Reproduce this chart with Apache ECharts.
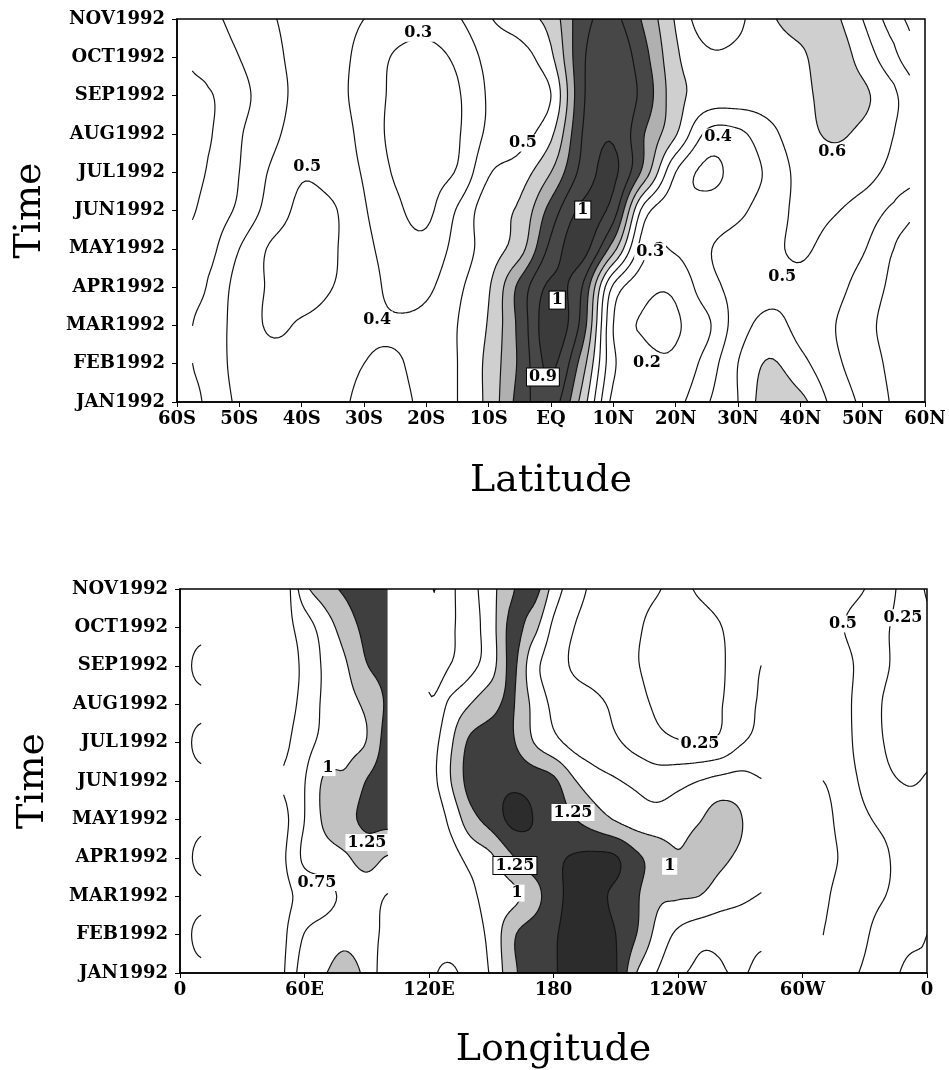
<!DOCTYPE html>
<html><head><meta charset="utf-8">
<script src="https://cdn.jsdelivr.net/npm/echarts@6/dist/echarts.min.js"></script>
<style>html,body{margin:0;padding:0;background:#fff}#chart{width:949px;height:1070px}</style>
</head><body><div id="chart"></div>
<script>
// ---------------- data ----------------
const months = ['JAN1992','FEB1992','MAR1992','APR1992','MAY1992','JUN1992','JUL1992','AUG1992','SEP1992','OCT1992','NOV1992'];
const latTickLabels = ['60S','50S','40S','30S','20S','10S','EQ','10N','20N','30N','40N','50N','60N'];
const lonTickLabels = ['0','60E','120E','180','120W','60W','0'];

// latitude grid columns (data only between 57.5S and 57.5N)
const latCols = [-57.5,-55,-50,-45,-40,-35,-30,-25,-20,-15,-10,-5,0,5,10,15,20,25,30,35,40,45,50,55,57.5];
// rows Jan..Nov
const latField = [
 [0.28,0.32,0.42,0.46,0.46,0.44,0.37,0.37,0.43,0.50,0.63,0.84,0.95,0.66,0.27,0.24,0.27,0.39,0.50,0.66,0.63,0.48,0.38,0.29,0.26],
 [0.30,0.33,0.44,0.47,0.47,0.45,0.40,0.39,0.44,0.50,0.63,0.82,1.02,0.75,0.32,0.23,0.22,0.34,0.50,0.61,0.53,0.43,0.35,0.28,0.26],
 [0.30,0.34,0.44,0.51,0.49,0.46,0.42,0.41,0.43,0.50,0.61,0.83,1.06,0.86,0.30,0.19,0.19,0.28,0.45,0.53,0.47,0.41,0.33,0.27,0.25],
 [0.27,0.31,0.44,0.51,0.54,0.50,0.45,0.37,0.38,0.48,0.59,0.83,1.02,0.90,0.38,0.23,0.22,0.36,0.43,0.47,0.48,0.44,0.36,0.28,0.25],
 [0.24,0.27,0.40,0.51,0.53,0.51,0.43,0.35,0.33,0.44,0.55,0.66,0.93,1.04,0.74,0.33,0.31,0.39,0.44,0.48,0.51,0.47,0.41,0.30,0.25],
 [0.19,0.24,0.32,0.44,0.52,0.51,0.41,0.32,0.28,0.41,0.56,0.62,0.84,1.02,0.95,0.45,0.33,0.34,0.38,0.45,0.52,0.51,0.46,0.38,0.33],
 [0.17,0.21,0.30,0.41,0.49,0.46,0.39,0.29,0.27,0.31,0.49,0.55,0.70,0.93,1.02,0.76,0.40,0.28,0.34,0.42,0.53,0.56,0.54,0.47,0.44],
 [0.16,0.19,0.29,0.37,0.45,0.45,0.37,0.27,0.24,0.29,0.42,0.46,0.58,0.90,0.99,0.80,0.61,0.38,0.38,0.47,0.56,0.61,0.58,0.50,0.44],
 [0.17,0.19,0.27,0.35,0.43,0.43,0.36,0.28,0.25,0.29,0.41,0.45,0.50,0.88,0.98,0.86,0.64,0.56,0.55,0.55,0.57,0.64,0.62,0.52,0.45],
 [0.22,0.25,0.30,0.37,0.43,0.43,0.37,0.29,0.27,0.32,0.43,0.46,0.58,0.88,0.97,0.83,0.62,0.52,0.52,0.54,0.58,0.66,0.56,0.43,0.35],
 [0.27,0.28,0.33,0.39,0.43,0.43,0.40,0.36,0.34,0.39,0.49,0.56,0.64,0.86,0.92,0.78,0.59,0.44,0.48,0.58,0.65,0.63,0.50,0.35,0.28]
];
const latLevels = [0.2,0.3,0.4,0.5,0.6,0.7,0.8,0.9,1.0,1.1];

const lonCols = [0,10,20,30,40,50,60,70,80,90,100,110,120,130,140,150,160,170,180,190,200,210,220,230,240,250,260,270,280,290,300,310,320,330,340,350,360];
const N = null;
const lonField = [
 [0.40,0.44,N,N,N,0.49,0.90,0.99,1.12,0.92,0.60,N,0.55,0.45,0.62,0.78,1.18,1.38,1.48,1.58,1.60,1.52,1.00,0.74,0.55,0.46,0.48,0.52,0.45,N,N,0.50,0.52,0.48,0.35,0.22,0.25],
 [0.40,0.56,N,N,N,0.47,0.76,0.86,0.92,0.84,0.70,N,0.58,0.62,0.66,0.82,1.20,1.38,1.48,1.56,1.58,1.50,1.25,0.92,0.70,0.58,0.56,0.58,0.55,N,N,0.50,0.55,0.52,0.40,0.30,0.25],
 [0.40,0.44,N,N,N,0.45,0.58,0.68,0.80,0.85,0.74,N,0.55,0.62,0.70,0.86,0.94,1.12,1.42,1.55,1.55,1.45,1.28,1.05,1.02,1.00,0.88,0.80,0.74,N,N,0.48,0.55,0.55,0.50,0.40,0.32],
 [0.40,0.55,N,N,N,0.48,0.80,0.88,0.97,1.10,0.98,N,0.60,0.66,0.82,0.96,1.22,1.40,1.46,1.52,1.55,1.52,1.30,1.15,1.02,1.10,1.05,0.95,0.80,N,N,0.45,0.52,0.55,0.52,0.40,0.30],
 [0.40,0.45,N,N,N,0.45,0.75,1.05,1.18,1.30,1.32,N,0.62,0.80,1.15,1.35,1.55,1.50,1.40,1.26,1.12,0.98,0.88,0.84,0.88,0.98,1.10,1.02,0.78,N,N,0.45,0.55,0.52,0.45,0.35,0.30],
 [0.40,0.44,N,N,N,0.52,0.74,1.04,1.05,1.26,1.38,N,0.72,0.98,1.35,1.42,1.45,1.40,1.30,1.02,0.86,0.77,0.70,0.64,0.68,0.75,0.82,0.84,0.76,N,N,0.50,0.55,0.46,0.30,0.24,0.26],
 [0.40,0.56,N,N,N,0.45,0.66,0.82,0.92,1.01,1.35,N,0.70,0.95,1.30,1.34,1.28,1.01,0.82,0.68,0.60,0.53,0.42,0.32,0.27,0.25,0.30,0.48,0.55,N,N,0.55,0.55,0.40,0.24,0.20,0.22],
 [0.40,0.44,N,N,N,0.40,0.58,0.80,0.92,1.05,1.28,N,0.55,0.80,1.00,1.18,1.27,0.95,0.70,0.62,0.55,0.45,0.32,0.22,0.18,0.18,0.23,0.40,0.52,N,N,0.55,0.55,0.38,0.23,0.19,0.21],
 [0.40,0.56,N,N,N,0.40,0.55,0.80,0.98,1.24,1.32,N,0.40,0.50,0.68,0.90,1.30,0.85,0.62,0.47,0.40,0.34,0.26,0.20,0.17,0.17,0.22,0.35,0.50,N,N,0.55,0.55,0.42,0.27,0.20,0.22],
 [0.40,0.44,N,N,N,0.42,0.62,0.88,1.12,1.32,1.36,N,0.35,0.46,0.64,0.90,1.32,1.10,0.70,0.50,0.42,0.35,0.27,0.21,0.18,0.19,0.24,0.34,0.42,N,N,0.55,0.50,0.40,0.27,0.20,0.23],
 [0.40,0.45,N,N,N,0.35,0.92,1.15,1.30,1.42,1.44,N,0.30,0.45,0.66,0.92,1.22,1.38,0.90,0.60,0.45,0.36,0.30,0.26,0.21,0.27,0.33,0.38,0.40,N,N,0.55,0.55,0.50,0.33,0.20,0.26]
];
const lonLevels = [0.25,0.5,0.75,1.0,1.25,1.5];

// contour labels: [x, month index, text, boxed]
const latLabelMarks = [
 [-21.3,9.63,'0.3',0],[-39.1,6.14,'0.5',0],[-27.9,2.14,'0.4',0],[-4.5,6.76,'0.5',0],
 [5.1,5.01,'1',1],[1.0,2.66,'1',1],[-1.3,0.65,'0.9',1],[15.9,3.92,'0.3',0],
 [15.4,1.02,'0.2',0],[26.8,6.92,'0.4',0],[45.1,6.53,'0.6',0],[37.1,3.26,'0.5',0]
];
const lonLabelMarks = [
 [71.3,5.35,'1',0],[90.1,3.4,'1.25',0],[66,2.36,'0.75',0],[189.4,4.18,'1.25',0],
 [161.4,2.8,'1.25',1],[162.4,2.08,'1',0],[236,2.78,'1',0],[250.6,5.97,'0.25',0],
 [319.5,9.09,'0.5',0],[348.4,9.25,'0.25',0]
];

// ---------------- styles ----------------
const latShade = [{min:0.6,color:'#cfcfcf'},{min:0.7,color:'#b0b0b0'},{min:0.8,color:'#474747'},{min:1.0,color:'#3b3b3b'}];
const lonShade = [{min:1.0,color:'#c2c2c2'},{min:1.25,color:'#3f3f3f'},{min:1.5,color:'#2c2c2c'}];
const FONT = 'DejaVu Serif';

// ---------------- contouring helpers ----------------
echarts.graphic.registerShape('contourFill', echarts.graphic.extendShape({
  shape: { polys: null },
  buildPath(ctx, shape) {
    const P = shape.polys; if (!P) return;
    for (let q = 0; q < P.length; q++) {
      const p = P[q];
      ctx.moveTo(p[0], p[1]);
      for (let k = 2; k < p.length; k += 2) ctx.lineTo(p[k], p[k + 1]);
      ctx.closePath();
    }
  }
}));
echarts.graphic.registerShape('contourLines', echarts.graphic.extendShape({
  shape: { segs: null },
  buildPath(ctx, shape) {
    const S = shape.segs; if (!S) return;
    for (let k = 0; k < S.length; k += 4) { ctx.moveTo(S[k], S[k + 1]); ctx.lineTo(S[k + 2], S[k + 3]); }
  }
}));

function prepareField(cols, field, K) {
  const nr = field.length, nc = cols.length;
  const filled = field.map(row => row.map((v, c) => {
    if (v != null) return v;
    let best = null, bd = 1e9;
    for (let k = 0; k < nc; k++) if (row[k] != null && Math.abs(k - c) < bd) { bd = Math.abs(k - c); best = row[k]; }
    return best;
  }));
  const G = (r, c) => {
    if (r < 0) return 2 * G(0, c) - G(1, c);
    if (r > nr - 1) return 2 * G(nr - 1, c) - G(nr - 2, c);
    if (c < 0) return 2 * G(r, 0) - G(r, 1);
    if (c > nc - 1) return 2 * G(r, nc - 1) - G(r, nc - 2);
    return filled[r][c];
  };
  const cr = (p0, p1, p2, p3, t) => 0.5 * (2 * p1 + (p2 - p0) * t + (2 * p0 - 5 * p1 + 4 * p2 - p3) * t * t + (3 * p1 - p0 - 3 * p2 + p3) * t * t * t);
  const FR = (nr - 1) * K + 1, FC = (nc - 1) * K + 1;
  const xs = [], ys = [], val = new Float64Array(FR * FC);
  const cIdx = [], cS = [], rIdx = [], rT = [];
  for (let j = 0; j < FC; j++) { const c = Math.min(Math.floor(j / K), nc - 2); const s = (j - c * K) / K; cIdx.push(c); cS.push(s); xs.push(cols[c] + s * (cols[c + 1] - cols[c])); }
  for (let i = 0; i < FR; i++) { const r = Math.min(Math.floor(i / K), nr - 2); const t = (i - r * K) / K; rIdx.push(r); rT.push(t); ys.push(r + t); }
  for (let i = 0; i < FR; i++) {
    const r = rIdx[i], t = rT[i];
    for (let j = 0; j < FC; j++) {
      const c = cIdx[j], s = cS[j];
      const rv = [];
      for (let a = -1; a <= 2; a++) rv.push(cr(G(r + a, c - 1), G(r + a, c), G(r + a, c + 1), G(r + a, c + 2), s));
      val[i * FC + j] = cr(rv[0], rv[1], rv[2], rv[3], t);
    }
  }
  const valid = new Uint8Array((FR - 1) * (FC - 1));
  for (let i = 0; i < FR - 1; i++) for (let j = 0; j < FC - 1; j++) {
    const r = Math.floor(i / K), c = Math.floor(j / K);
    valid[i * (FC - 1) + j] = (field[r][c] != null && field[r][c + 1] != null && field[r + 1][c] != null && field[r + 1][c + 1] != null) ? 1 : 0;
  }
  return { FR, FC, xs, ys, val, valid };
}

function clipTri(X, Y, V, t, out) {
  const poly = [];
  for (let a = 0; a < 3; a++) {
    const b = (a + 1) % 3, ia = V[a] >= t, ib = V[b] >= t;
    if (ia) poly.push(X[a], Y[a]);
    if (ia !== ib) { const k = (t - V[a]) / (V[b] - V[a]); poly.push(X[a] + k * (X[b] - X[a]), Y[a] + k * (Y[b] - Y[a])); }
  }
  if (poly.length >= 6) out.push(poly);
}
function triSeg(X, Y, V, L, out) {
  const p = [];
  for (let a = 0; a < 3; a++) {
    const b = (a + 1) % 3, ia = V[a] >= L, ib = V[b] >= L;
    if (ia !== ib) { const k = (L - V[a]) / (V[b] - V[a]); p.push(X[a] + k * (X[b] - X[a]), Y[a] + k * (Y[b] - Y[a])); }
  }
  if (p.length === 4) out.push(p[0], p[1], p[2], p[3]);
}

function renderField(api, F, levels, shade) {
  const { FR, FC, xs, ys, val, valid } = F;
  const PX = new Float64Array(FR * FC), PY = new Float64Array(FR * FC);
  for (let i = 0; i < FR; i++) for (let j = 0; j < FC; j++) {
    const p = api.coord([xs[j], ys[i]]); PX[i * FC + j] = p[0]; PY[i * FC + j] = p[1];
  }
  const fills = shade.map(() => []);
  const segs = [];
  const X = [0, 0, 0], Y = [0, 0, 0], V = [0, 0, 0];
  for (let i = 0; i < FR - 1; i++) for (let j = 0; j < FC - 1; j++) {
    if (!valid[i * (FC - 1) + j]) continue;
    const k0 = i * FC + j, k1 = k0 + 1, k2 = k0 + FC + 1, k3 = k0 + FC;
    const ks = [k0, k1, k2, k3];
    const v = ks.map(k => val[k]);
    const vc = (v[0] + v[1] + v[2] + v[3]) / 4;
    const cx = (PX[k0] + PX[k1] + PX[k2] + PX[k3]) / 4, cy = (PY[k0] + PY[k1] + PY[k2] + PY[k3]) / 4;
    const vmin = Math.min(v[0], v[1], v[2], v[3], vc), vmax = Math.max(v[0], v[1], v[2], v[3], vc);
    for (let s = 0; s < shade.length; s++) {
      const t = shade[s].min;
      if (vmax < t) continue;
      if (vmin >= t) { fills[s].push([PX[k0], PY[k0], PX[k1], PY[k1], PX[k2], PY[k2], PX[k3], PY[k3]]); continue; }
      for (let q = 0; q < 4; q++) {
        const a = ks[q], b = ks[(q + 1) % 4];
        X[0] = PX[a]; Y[0] = PY[a]; V[0] = v[q];
        X[1] = PX[b]; Y[1] = PY[b]; V[1] = v[(q + 1) % 4];
        X[2] = cx; Y[2] = cy; V[2] = vc;
        clipTri(X, Y, V, t, fills[s]);
      }
    }
    for (let l = 0; l < levels.length; l++) {
      const L = levels[l];
      if (vmax < L || vmin >= L) continue;
      for (let q = 0; q < 4; q++) {
        const a = ks[q], b = ks[(q + 1) % 4];
        X[0] = PX[a]; Y[0] = PY[a]; V[0] = v[q];
        X[1] = PX[b]; Y[1] = PY[b]; V[1] = v[(q + 1) % 4];
        X[2] = cx; Y[2] = cy; V[2] = vc;
        triSeg(X, Y, V, L, segs);
      }
    }
  }
  const children = shade.map((sh, s) => ({ type: 'contourFill', shape: { polys: fills[s] }, style: { fill: sh.color, stroke: null }, silent: true }));
  children.push({ type: 'contourLines', shape: { segs }, style: { fill: null, stroke: '#141414', lineWidth: 1.2, lineCap: 'round' }, silent: true });
  return { type: 'group', children };
}

const latF = prepareField(latCols, latField, 8);
const lonF = prepareField(lonCols, lonField, 8);

function gridPoints(cols, field) {
  const out = [];
  field.forEach((row, r) => row.forEach((v, c) => out.push([cols[c], r, v])));
  return out;
}
function labelData(marks) {
  return marks.map(m => ({
    value: [m[0], m[1]],
    label: {
      formatter: m[2],
      borderColor: m[3] ? '#000' : 'transparent',
      borderWidth: m[3] ? 1 : 0
    }
  }));
}

// ---------------- chart ----------------
const axisText = { color: '#000', fontFamily: FONT, fontWeight: 'bold', fontSize: 18 };
const nameText = { color: '#000', fontFamily: FONT, fontSize: 38 };
function xAxisCfg(gi, min, max, interval, labels, name, gap) {
  return {
    gridIndex: gi, type: 'value', min, max, interval, name, nameLocation: 'middle', nameGap: gap,
    nameTextStyle: nameText,
    axisLine: { show: true, onZero: false, lineStyle: { color: '#000', width: 1.5 } },
    axisTick: { show: true, inside: false, length: 5, lineStyle: { color: '#000', width: 1 } },
    axisLabel: { ...axisText, margin: 8, formatter: v => labels[Math.round((v - min) / interval)] },
    splitLine: { show: false }, z: 3
  };
}
function yAxisCfg(gi) {
  return {
    gridIndex: gi, type: 'value', min: 0, max: 10, interval: 1, name: 'Time', nameLocation: 'middle', nameGap: 128,
    nameTextStyle: nameText, nameRotate: 90,
    axisLine: { show: true, onZero: false, lineStyle: { color: '#000', width: 1.5 } },
    axisTick: { show: true, inside: false, length: 5, lineStyle: { color: '#000', width: 1 } },
    axisLabel: { ...axisText, margin: 12, formatter: v => months[v] },
    splitLine: { show: false }, z: 3
  };
}
const labelSeries = (xi, marks) => ({
  type: 'scatter', xAxisIndex: xi, yAxisIndex: xi, symbolSize: 2, z: 5, silent: true,
  itemStyle: { color: 'rgba(0,0,0,0)' },
  label: { show: true, position: 'inside', color: '#000', opacity: 1, fontFamily: FONT, fontWeight: 'bold', fontSize: 16,
           textBorderWidth: 0, backgroundColor: '#fff', padding: [1, 2, 0, 2] },
  emphasis: { disabled: true },
  labelLayout: { hideOverlap: false },
  data: labelData(marks)
});

const chart = echarts.init(document.getElementById('chart'), null, { renderer: 'canvas' });
chart.setOption({
  animation: false,
  backgroundColor: '#fff',
  grid: [
    { left: 177, top: 19, width: 748, height: 383, show: true, borderColor: '#000', borderWidth: 1.5, backgroundColor: 'transparent', z: 3, outerBoundsMode: 'none', containLabel: false },
    { left: 180, top: 589, width: 747, height: 384, show: true, borderColor: '#000', borderWidth: 1.5, backgroundColor: 'transparent', z: 3, outerBoundsMode: 'none', containLabel: false }
  ],
  xAxis: [
    xAxisCfg(0, -60, 60, 10, latTickLabels, 'Latitude', 60),
    xAxisCfg(1, 0, 360, 60, lonTickLabels, 'Longitude', 58)
  ],
  yAxis: [yAxisCfg(0), yAxisCfg(1)],
  series: [
    { type: 'custom', xAxisIndex: 0, yAxisIndex: 0, z: 2, silent: true, clip: true,
      data: gridPoints(latCols, latField),
      renderItem: (params, api) => params.dataIndex === 0 ? renderField(api, latF, latLevels, latShade) : null },
    { type: 'custom', xAxisIndex: 1, yAxisIndex: 1, z: 2, silent: true, clip: true,
      data: gridPoints(lonCols, lonField),
      renderItem: (params, api) => params.dataIndex === 0 ? renderField(api, lonF, lonLevels, lonShade) : null },
    labelSeries(0, latLabelMarks),
    labelSeries(1, lonLabelMarks)
  ]
});
</script></body></html>
